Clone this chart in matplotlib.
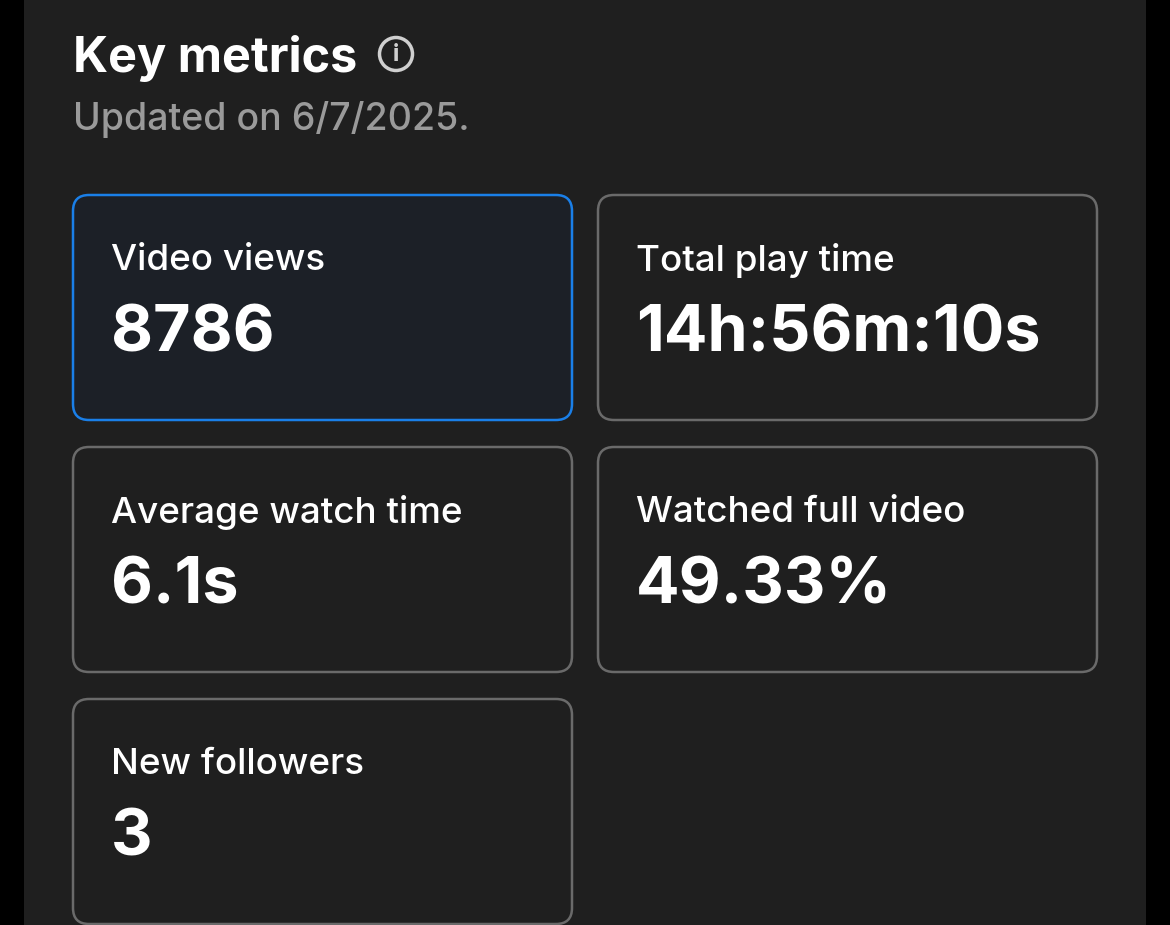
import matplotlib
matplotlib.use("Agg")
import matplotlib.pyplot as plt
from matplotlib.patches import FancyBboxPatch, Rectangle, Circle

title = "Key metrics"
subtitle = "Updated on 6/7/2025."
labels = ["Video views", "Total play time", "Average watch time", "Watched full video", "New followers"]
values = ["8786", "14h:56m:10s", "6.1s", "49.33%", "3"]
selected = 0

plt.rcParams['font.family'] = ['Inter', 'DejaVu Sans']
fig = plt.figure(figsize=(11.7, 9.25), dpi=100, facecolor='black')
ax = fig.add_axes([0, 0, 1, 1])
ax.set_xlim(0, 1170); ax.set_ylim(925, 0); ax.axis('off')
ax.add_patch(Rectangle((24, -5), 1122, 940, facecolor='#1f1f1f', edgecolor='none'))

ax.text(73, 58, title, color='white', fontsize=35, fontweight='bold', va='center', ha='left')
ax.add_patch(Circle((396, 54), 16.5, facecolor='none', edgecolor='#cfcfcf', lw=2.5))
ax.text(396, 55, "i", color='#cfcfcf', fontsize=17, fontweight='bold', ha='center', va='center')
ax.text(73, 120, subtitle, color='#9a9a9a', fontsize=27, fontweight='medium', va='center', ha='left')

xs = [73, 598]; ys = [195, 447, 699]
w, h = 499, 225
for i, (lab, val) in enumerate(zip(labels, values)):
    x = xs[i % 2]; y = ys[i // 2]
    sel = i == selected
    ax.add_patch(FancyBboxPatch((x, y), w, h, boxstyle="round,pad=0,rounding_size=16",
                                facecolor='#1c2027' if sel else '#1f1f1f',
                                edgecolor='#1a7fe8' if sel else '#6a6a6a', lw=1.8))
    ax.text(x + 38, y + 65, lab, color='white', fontsize=26.5, fontweight='medium', va='center', ha='left')
    ax.text(x + 38, y + 139, val, color='white', fontsize=46.5, fontweight='bold', va='center', ha='left')

fig.savefig("out.png", dpi=100, facecolor='black')
